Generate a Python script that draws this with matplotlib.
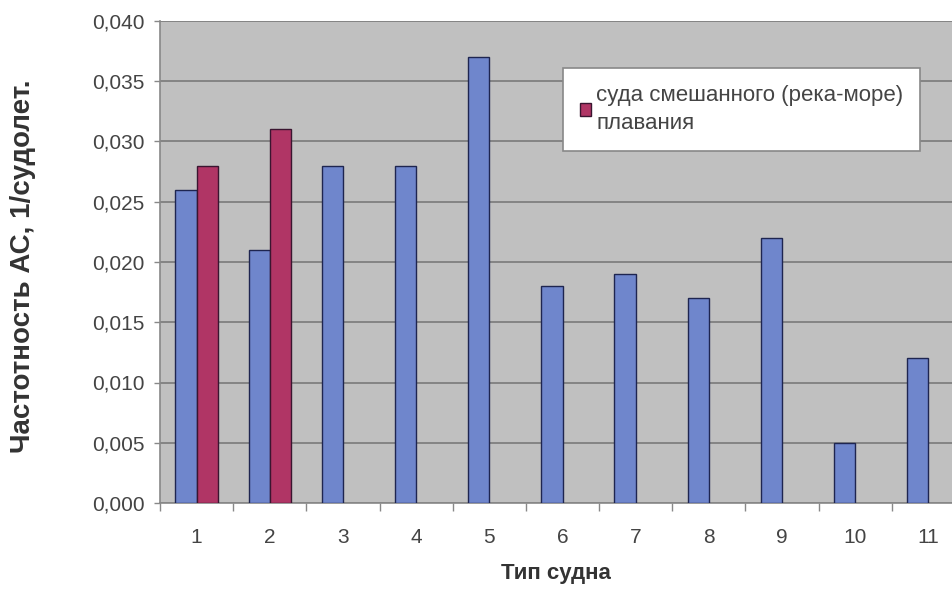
import matplotlib
matplotlib.use("Agg")
import matplotlib.pyplot as plt
import numpy as np
from matplotlib.ticker import MultipleLocator, FuncFormatter

categories = ["1", "2", "3", "4", "5", "6", "7", "8", "9", "10", "11"]
series_all = [0.026, 0.021, 0.028, 0.028, 0.037, 0.018, 0.019, 0.017, 0.022, 0.005, 0.012]
series_mixed = [0.028, 0.031]
legend_label = "суда смешанного (река-море)\nплавания"
xlabel = "Тип судна"
ylabel = "Частотность АС, 1/судолет."

plt.rcParams['font.family'] = ['Liberation Sans', 'DejaVu Sans']

fig = plt.figure(figsize=(9.53, 5.91), dpi=100)
ax = fig.add_axes([160/953, 1-503/591, 805/953, (503-21)/591])
ax.set_facecolor('#c0c0c0')

x = np.arange(len(categories))
w = 0.29
ax.bar(x - w/2, series_all, width=w, color='#6f86cc', edgecolor='#1e2550', linewidth=1.0, zorder=3)
ax.bar(x[:len(series_mixed)] + w/2, series_mixed, width=w, color='#b03565', edgecolor='#3a1530',
       linewidth=1.0, zorder=3, label=legend_label)

ax.set_xlim(-0.5, len(categories) - 0.5)
ax.set_ylim(0, 0.040)
ax.yaxis.set_major_locator(MultipleLocator(0.005))
ax.yaxis.set_major_formatter(FuncFormatter(lambda v, p: f"{v:.3f}".replace('.', ',')))
ax.grid(axis='y', color='#7a7a7a', linewidth=1.2, zorder=1)

ax.set_xticks(x)
ax.set_xticklabels(categories)
ax.set_xticks(np.arange(len(categories) + 1) - 0.5, minor=True)
ax.tick_params(axis='x', which='major', length=0, pad=18, labelsize=15, labelcolor='#444444')
ax.tick_params(axis='x', which='minor', length=6, color='#888888', width=1)
ax.tick_params(axis='y', length=4.5, color='#888888', width=1, pad=6.5, labelsize=15, labelcolor='#444444')

for s in ['top', 'right']:
    ax.spines[s].set_visible(False)
ax.spines['left'].set_color('#888888')
ax.spines['bottom'].set_color('#888888')
ax.spines['left'].set_linewidth(1.2)
ax.spines['bottom'].set_linewidth(1.2)

fig.text(556/953, 1-573/591, xlabel, ha='center', va='center', fontsize=16, fontweight='bold', color='#333333')
fig.text(23/953, 1-266/591, ylabel, ha='center', va='center', rotation=90, fontsize=20,
         fontweight='bold', color='#333333')

leg = ax.legend(loc='upper left', bbox_to_anchor=((563-160)/805, 1-(68-21)/482), fontsize=16,
                frameon=True, fancybox=False, shadow=False, handlelength=0.5, handleheight=0.5,
                handletextpad=0.25, borderpad=0.75, borderaxespad=0, labelcolor='#444444')
for t in leg.get_texts():
    t.set_linespacing(1.45)
leg.get_frame().set_edgecolor('#888888')
leg.get_frame().set_linewidth(1.2)
leg.get_frame().set_facecolor('white')
leg.get_frame().set_alpha(1)
leg.set_zorder(5)

fig.savefig('out.png', dpi=100)
